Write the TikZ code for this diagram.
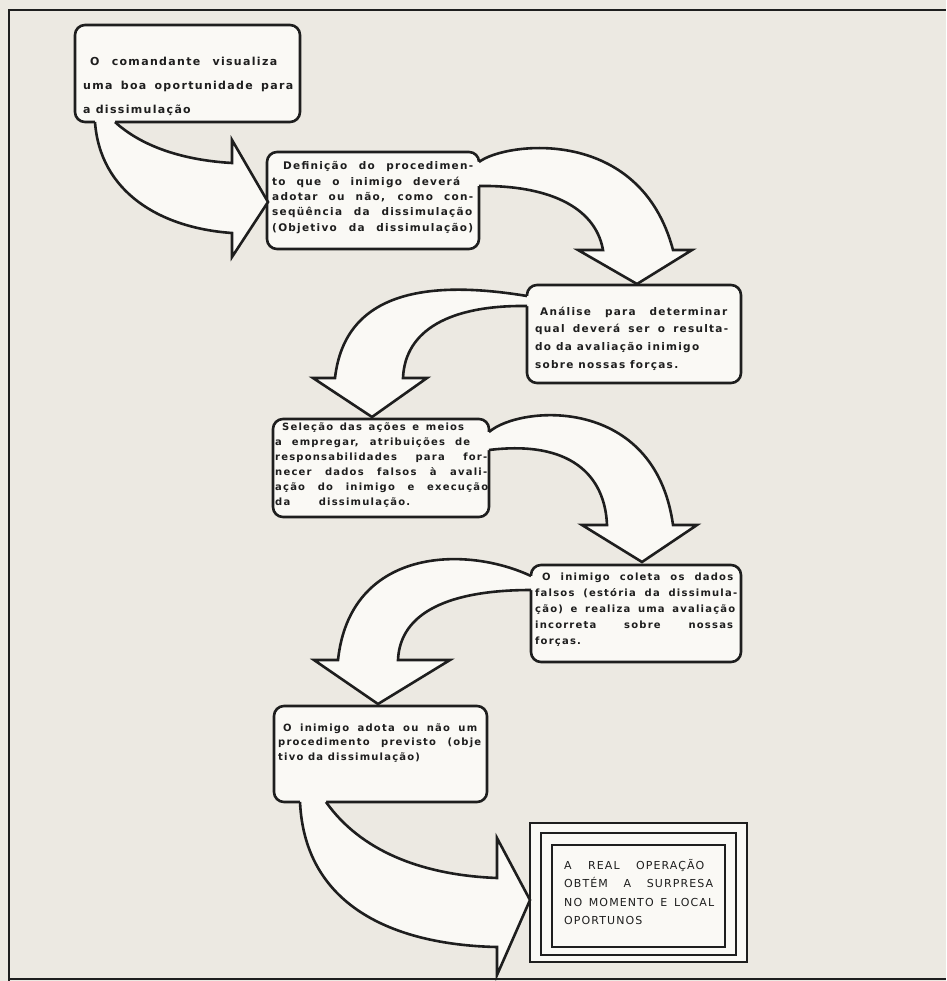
\documentclass[tikz,border=0pt]{standalone}
\usepackage{fontspec}
\newfontfamily\boxfont[LetterSpace=12]{DejaVu Sans}
\newfontfamily\capsfont[LetterSpace=10]{DejaVu Sans}
\newcommand\jfull[2]{\makebox[#1][s]{#2}}
\definecolor{paper}{HTML}{ECE9E2}
\definecolor{boxbg}{HTML}{FAF9F5}
\definecolor{ink}{HTML}{1E1E1E}
\tikzset{
  boxstyle/.style={draw=ink, line width=2.6pt, rounded corners=10pt, fill=boxbg, inner sep=0pt},
  afill/.style={fill=boxbg},
  aline/.style={draw=ink, line width=2.6pt, line join=miter},
  txt/.style={inner sep=0pt, anchor=base west, text=ink},
  framestyle/.style={draw=ink, line width=2pt},
}
\def\arrA{(95,122) .. controls (100,192) and (160,228) .. (232,233) -- (232,257) -- (268,202) -- (232,140) -- (232,163) .. controls (180,160) and (140,145) .. (115,122)}
\def\arrB{(479,162) .. controls (505,142) and (640,125) .. (673,250) -- (692,250) -- (637,284) -- (578,250) -- (603,250) .. controls (595,205) and (545,185) .. (479,186)}
\def\arrC{(527,296) .. controls (430,280) and (345,290) .. (335,378) -- (313,378) -- (372,417) -- (427,378) -- (403,378) .. controls (405,330) and (450,305) .. (527,306)}
\def\arrD{(489,432) .. controls (520,405) and (655,395) .. (673,525) -- (697,525) -- (642,562) -- (582,525) -- (607,525) .. controls (605,475) and (570,440) .. (489,450)}
\def\arrE{(531,576) .. controls (465,545) and (350,548) .. (338,660) -- (314,660) -- (378,704) -- (450,660) -- (398,660) .. controls (400,612) and (450,590) .. (531,590)}
\def\arrF{(300,802) .. controls (305,910) and (400,945) .. (497,947) -- (497,975) -- (530,900) -- (497,838) -- (497,878) .. controls (420,875) and (360,850) .. (326,802)}
\begin{document}
\begin{tikzpicture}[x=1pt,y=-1pt]
\useasboundingbox (0,0) rectangle (946,981);
\fill[paper] (0,0) rectangle (946,981);
\draw[framestyle] (9,981) -- (9,10) -- (946,10);
\draw[framestyle] (9,979) -- (946,979);
% boxes
\node[boxstyle, minimum width=225pt, minimum height=97pt] (b1) at (187.5,73.5) {};
\node[boxstyle, minimum width=212pt, minimum height=97pt] (b2) at (373,200.5) {};
\node[boxstyle, minimum width=214pt, minimum height=98pt] (b3) at (634,334) {};
\node[boxstyle, minimum width=216pt, minimum height=98pt] (b4) at (381,468) {};
\node[boxstyle, minimum width=210pt, minimum height=97pt] (b5) at (636,613.5) {};
\node[boxstyle, minimum width=213pt, minimum height=96pt] (b6) at (380.5,754) {};
\node[draw=ink, line width=2pt, fill=boxbg, minimum width=217pt, minimum height=139pt, inner sep=0pt] (b7) at (638.5,892.5) {};
\node[draw=ink, line width=2.6pt, minimum width=195pt, minimum height=122pt, inner sep=0pt] (b7a) at (638.5,894) {};
\node[draw=ink, line width=1.4pt, minimum width=173pt, minimum height=102pt, inner sep=0pt] (b7b) at (638.5,896) {};
% arrows
\fill[afill] \arrA -- (115,112) -- (95,112) -- cycle;
\draw[aline] \arrA;
\fill[afill] \arrB -- (469,186) -- (469,162) -- cycle;
\draw[aline] \arrB;
\fill[afill] \arrC -- (537,306) -- (537,296) -- cycle;
\draw[aline] \arrC;
\fill[afill] \arrD -- (479,450) -- (479,432) -- cycle;
\draw[aline] \arrD;
\fill[afill] \arrE -- (541,590) -- (541,576) -- cycle;
\draw[aline] \arrE;
\fill[afill] \arrF -- (326,792) -- (300,792) -- cycle;
\draw[aline] \arrF;
% texts
\node[txt] (t1) at (83,66) {\parbox[t]{215pt}{\boxfont\bfseries\fontsize{11}{24}\selectfont
\hspace*{7pt}\jfull{187pt}{O comandante visualiza}\\
\jfull{210pt}{uma boa oportunidade para}\\
a dissimulação}};
\node[txt] (t2) at (272,170) {\parbox[t]{205pt}{\boxfont\bfseries\fontsize{10.5}{15.3}\selectfont
\hspace*{11pt}\jfull{190pt}{Definição do procedimen-}\\
\jfull{188pt}{to que o inimigo deverá}\\
\jfull{201pt}{adotar ou não, como con-}\\
\jfull{200pt}{seqüência da dissimulação}\\
\jfull{201pt}{(Objetivo da dissimulação)}}};
\node[txt] (t3) at (535,315) {\parbox[t]{200pt}{\boxfont\bfseries\fontsize{10.5}{17.7}\selectfont
\hspace*{5pt}\jfull{187pt}{Análise para determinar}\\
\jfull{193pt}{qual deverá ser o resulta-}\\
do da avaliação inimigo\\
sobre nossas forças.}};
\node[txt] (t4) at (275,430) {\parbox[t]{215pt}{\boxfont\bfseries\fontsize{10}{15}\selectfont
\hspace*{7pt}\jfull{182pt}{Seleção das ações e meios}\\
\jfull{195pt}{a empregar, atribuições de}\\
\jfull{212pt}{responsabilidades para for-}\\
\jfull{212pt}{necer dados falsos à avali-}\\
\jfull{213pt}{ação do inimigo e execução}\\
\jfull{135pt}{da dissimulação.}}};
\node[txt] (t5) at (535,580) {\parbox[t]{205pt}{\boxfont\bfseries\fontsize{10}{16}\selectfont
\hspace*{7pt}\jfull{191pt}{O inimigo coleta os dados}\\
\jfull{202pt}{falsos (estória da dissimula-}\\
\jfull{200pt}{ção) e realiza uma avaliação}\\
\jfull{198pt}{incorreta sobre nossas}\\
forças.}};
\node[txt] (t6) at (278,731) {\parbox[t]{205pt}{\boxfont\bfseries\fontsize{10}{14.5}\selectfont
\hspace*{5pt}\jfull{194pt}{O inimigo adota ou não um}\\
\jfull{203pt}{procedimento previsto (obje}\\
tivo da dissimulação)}};
\node[txt] (t7) at (564,869) {\parbox[t]{160pt}{\capsfont\fontsize{11}{18.5}\selectfont
\jfull{140pt}{A REAL OPERAÇÃO}\\
\jfull{149pt}{OBTÉM A SURPRESA}\\
\jfull{150pt}{NO MOMENTO E LOCAL}\\
OPORTUNOS}};
\end{tikzpicture}
\end{document}
